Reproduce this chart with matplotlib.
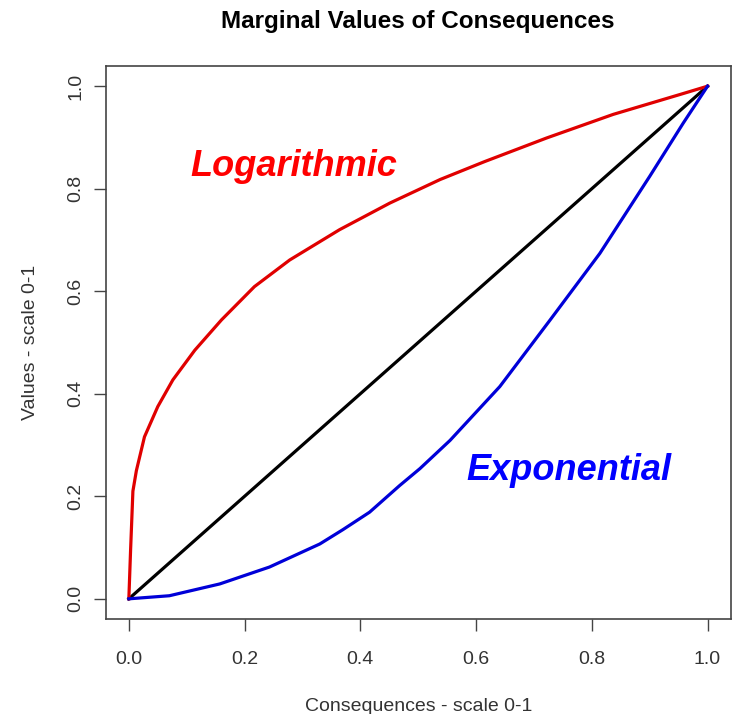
import matplotlib
matplotlib.use('Agg')
import matplotlib.pyplot as plt

plt.rcParams['font.family'] = ['Liberation Sans', 'DejaVu Sans']

# valores
xLinear = [0.0, 1.0]
yLinear = [0.0, 1.0]

xLog = [0.0, 0.003, 0.007, 0.013, 0.027, 0.05, 0.076, 0.114, 0.16, 0.217,
        0.278, 0.364, 0.451, 0.538, 0.615, 0.722, 0.837, 0.953, 1.0]
yLog = [0.0, 0.095, 0.21, 0.25, 0.316, 0.375, 0.427, 0.485, 0.544, 0.609,
        0.661, 0.72, 0.772, 0.818, 0.853, 0.899, 0.945, 0.984, 1.0]

xExp = [0.0, 0.07, 0.157, 0.243, 0.33, 0.37, 0.416, 0.468, 0.503, 0.555,
        0.641, 0.728, 0.814, 0.9, 0.958, 1.0]
yExp = [0.0, 0.006, 0.029, 0.062, 0.107, 0.135, 0.169, 0.221, 0.254, 0.309,
        0.414, 0.544, 0.674, 0.824, 0.928, 1.0]

ticks = [0.0, 0.2, 0.4, 0.6, 0.8, 1.0]
tickLabels = ['0.0', '0.2', '0.4', '0.6', '0.8', '1.0']

fig = plt.figure(figsize=(7.32, 7.14), dpi=100)
ax = fig.add_axes([0.1444, 0.1326, 0.8538, 0.7754])

ax.plot(xLinear, yLinear, color='black', lw=2.3)
ax.plot(xLog, yLog, color='#e00000', lw=2.3)
ax.plot(xExp, yExp, color='#0000d8', lw=2.3)

ax.text(0.285, 0.824, 'Logarithmic', color='#ff0000', fontsize=26,
        fontweight='bold', fontstyle='italic', ha='center', va='baseline')
ax.text(0.76, 0.231, 'Exponential', color='#0000ff', fontsize=26,
        fontweight='bold', fontstyle='italic', ha='center', va='baseline')

ax.set_xlim(-0.04, 1.04)
ax.set_ylim(-0.04, 1.04)
ax.set_xticks(ticks)
ax.set_xticklabels(tickLabels)
ax.set_yticks(ticks)
ax.set_yticklabels(tickLabels, rotation=90, va='center')

corEixo = '#444444'
for s in ax.spines.values():
    s.set_color(corEixo)
    s.set_linewidth(1.2)
ax.tick_params(axis='both', direction='out', length=8.5, width=1.0,
               color=corEixo, labelsize=14, labelcolor='#333333')
ax.tick_params(axis='x', pad=14)
ax.tick_params(axis='y', pad=7)

ax.set_title('Marginal Values of Consequences', fontsize=17.5,
             fontweight='bold', pad=27)
ax.set_xlabel('Consequences - scale 0-1', fontsize=14, color='#333333', labelpad=22)
ax.set_ylabel('Values - scale 0-1', fontsize=14, color='#333333', labelpad=20)

plt.savefig('out.png', dpi=100)
